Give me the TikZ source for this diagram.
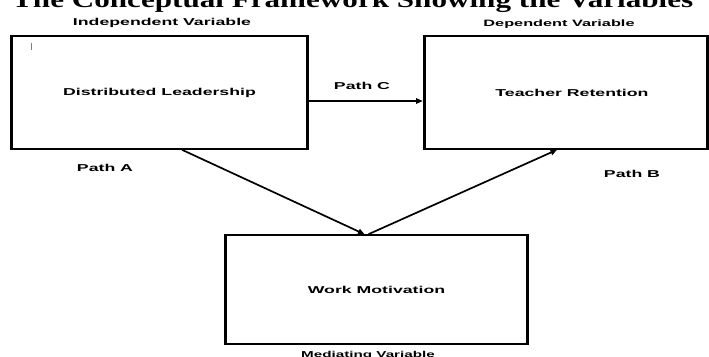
\documentclass[tikz,border=0pt]{standalone}
\usepackage{graphicx}
\usepackage{fontspec}
\setmainfont{Liberation Serif}
\newfontfamily\lblfont{Liberation Sans}
\usetikzlibrary{arrows.meta}
\newcommand{\stx}[2]{{\fontsize{#1}{#1}\selectfont\lblfont\bfseries\scalebox{1.77}[1]{#2}}}
\begin{document}
\begin{tikzpicture}[x=1pt,y=-1pt,
  box/.style={draw,line width=1.6pt,rectangle,inner sep=0pt},
  lbl/.style={inner sep=0pt},
  arr/.style={line width=1.7pt,-{Triangle[length=6.5pt,width=5.5pt]}},
  vedge/.style={line width=3pt}]
\useasboundingbox (0,0) rectangle (709,356);
\clip (0,0) rectangle (709,356);
\fill[white] (0,0) rectangle (709,356);
% title
\node[lbl,anchor=base west] (title) at (12,7.5) {\resizebox{681pt}{\height}{\fontsize{23}{23}\selectfont\bfseries The Conceptual Framework Showing the Variables}};
% boxes
\node[box,minimum width=295pt,minimum height=113pt] (dl) at (159.5,92.5) {\stx{10}{Distributed Leadership}};
\node[box,minimum width=282pt,minimum height=113pt] (tr) at (566,92.5) {\hspace*{12pt}\stx{10}{Teacher Retention}};
\node[box,minimum width=301pt,minimum height=109pt] (wm) at (376.5,289.5) {\stx{10}{Work Motivation}};
\foreach \n in {dl,tr,wm}{
  \draw[vedge] (\n.north west) -- (\n.south west);
  \draw[vedge] (\n.north east) -- (\n.south east);
}
% labels
\node[lbl,anchor=base] (iv) at (162,25) {\stx{10}{Independent Variable}};
\node[lbl,anchor=base] (dv) at (559,26.5) {\stx{9.2}{Dependent Variable}};
\node[lbl,anchor=base] (mv) at (368,357.5) {\stx{8.6}{Mediating Variable}};
\node[lbl,anchor=base] (pa) at (105,171.6) {\stx{10}{Path A}};
\node[lbl,anchor=base] (pb) at (632,177.6) {\stx{10}{Path B}};
\node[lbl,anchor=base] (pc) at (362,89.6) {\stx{10}{Path C}};
% cursor mark
\draw[gray,line width=0.8pt] (31,43) -- (31,50);
% arrows
\draw[arr,line width=1.3pt,shorten >=1.5pt] ([yshift=-8.5pt]dl.east) -- ([yshift=-8.5pt]tr.west);
\draw[arr] ([xshift=22.5pt]dl.south) -- ([xshift=-12pt]wm.north);
\draw[arr] ([xshift=-8pt]wm.north) -- ([xshift=-9pt]tr.south);
\end{tikzpicture}
\end{document}
